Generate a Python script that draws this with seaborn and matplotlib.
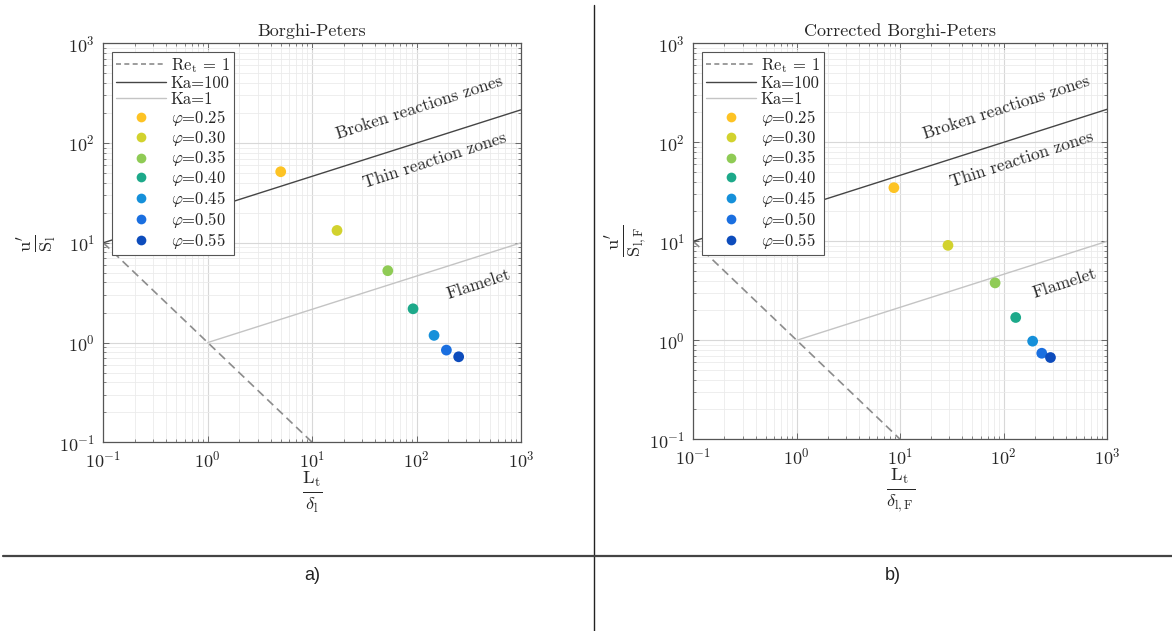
import matplotlib
matplotlib.use("Agg")
import matplotlib.pyplot as plt
from matplotlib.lines import Line2D
from matplotlib.ticker import LogLocator, NullFormatter
import seaborn as sns
import pandas as pd
import numpy as np

sns.set_theme(style="white")
plt.rcParams['font.family'] = ['cmr10', 'DejaVu Serif']
plt.rcParams['mathtext.fontset'] = 'cm'
plt.rcParams['axes.formatter.use_mathtext'] = True

# ---------------- data ----------------
phi_labels = ["0.25", "0.30", "0.35", "0.40", "0.45", "0.50", "0.55"]
phi_colors = ["#FDC324", "#D2D22E", "#8FCB55", "#1DA98A", "#1590DA", "#1A6FE0", "#0D4CBC"]

# panel a: Borghi-Peters
a_x = [5.0, 17.3, 53.0, 92.5, 147.0, 193.0, 253.0]
a_y = [51.6, 13.3, 5.25, 2.18, 1.18, 0.84, 0.72]
# panel b: Corrected Borghi-Peters
b_x = [8.7, 29.0, 82.8, 131.0, 191.0, 234.0, 284.0]
b_y = [34.8, 9.1, 3.8, 1.7, 0.98, 0.74, 0.67]

# regime boundaries (straight in log-log, end points)
ret_x = [0.1, 10.0]
ret_y = [10.0, 0.1]
ka100_x = [0.1, 1000.0]
ka100_y = [10.0, 215.4]
ka1_x = [1.0, 1000.0]
ka1_y = [1.0, 10.0]

titles = ["Borghi-Peters", "Corrected Borghi-Peters"]
xlabels = [r"$\frac{\mathrm{L_t}}{\delta_\mathrm{l}}$", r"$\frac{\mathrm{L_t}}{\delta_\mathrm{l,F}}$"]
ylabels = [r"$\frac{\mathrm{u}'}{\mathrm{S_l}}$", r"$\frac{\mathrm{u}'}{\mathrm{S_{l,F}}}$"]
panel_tags = ["a)", "b)"]

regime_text = ["Broken reactions zones", "Thin reaction zones", "Flamelet"]
regime_x = [106.0, 150.0, 390.0]
regime_y = [224.0, 67.0, 3.8]

# ---------------- figure ----------------
fig = plt.figure(figsize=(11.72, 6.31), dpi=100)
positions = [[103.3 / 1172, 1 - 442.3 / 631, 417.7 / 1172, 399 / 631],
             [693.3 / 1172, 1 - 439.3 / 631, 413.7 / 1172, 396 / 631]]

C_RET = "#8c8c8c"
C_K100 = "#454545"
C_K1 = "#c4c4c4"

for i in range(2):
    ax = fig.add_axes(positions[i])
    xs, ys = (a_x, a_y) if i == 0 else (b_x, b_y)
    df = pd.DataFrame({"x": xs, "y": ys, "phi": phi_labels})

    sns.lineplot(x=ret_x, y=ret_y, ax=ax, color=C_RET, lw=1.2, linestyle=(0, (5, 3)), zorder=2)
    sns.lineplot(x=ka100_x, y=ka100_y, ax=ax, color=C_K100, lw=1.0, zorder=2)
    sns.lineplot(x=ka1_x, y=ka1_y, ax=ax, color=C_K1, lw=1.0, zorder=2)
    sns.scatterplot(data=df, x="x", y="y", hue="phi", palette=phi_colors, s=60,
                    edgecolor="none", legend=False, ax=ax, zorder=3)

    ax.set_xscale("log")
    ax.set_yscale("log")
    ax.set_xlim(0.1, 1000)
    ax.set_ylim(0.1, 1000)

    ax.xaxis.set_major_locator(LogLocator(base=10, numticks=10))
    ax.yaxis.set_major_locator(LogLocator(base=10, numticks=10))
    ax.xaxis.set_minor_locator(LogLocator(base=10, subs=np.arange(2, 10), numticks=20))
    ax.yaxis.set_minor_locator(LogLocator(base=10, subs=np.arange(2, 10), numticks=20))
    ax.xaxis.set_minor_formatter(NullFormatter())
    ax.yaxis.set_minor_formatter(NullFormatter())

    ax.grid(True, which="major", color="#d8d8d8", lw=0.8)
    ax.grid(True, which="minor", color="#ebebeb", lw=0.6)
    ax.set_axisbelow(True)
    ax.tick_params(which="both", direction="in", top=True, right=True,
                   bottom=True, left=True, colors="#555555", labelcolor="#262626")
    ax.tick_params(which="major", length=4, width=0.6, labelsize=13)
    ax.tick_params(axis="x", which="major", pad=5)
    ax.tick_params(axis="y", which="major", pad=6)
    ax.tick_params(which="minor", length=2, width=0.5)
    for sp in ax.spines.values():
        sp.set_color("#555555")
        sp.set_linewidth(0.9)

    ax.set_title(titles[i], fontsize=13, color="#262626", pad=5)
    ax.set_xlabel(xlabels[i], fontsize=19, color="#262626", labelpad=0)
    ax.set_ylabel(ylabels[i], fontsize=19, color="#262626", labelpad=0)

    for t, tx, ty in zip(regime_text, regime_x, regime_y):
        ax.text(tx, ty, t, rotation=18, ha="center", va="center",
                fontsize=12.5, color="#2a2a2a", rotation_mode="anchor")

    handles = [
        Line2D([], [], color=C_RET, lw=1.2, linestyle=(0, (3, 2))),
        Line2D([], [], color=C_K100, lw=1.0),
        Line2D([], [], color=C_K1, lw=1.0),
    ]
    labels = [r"$\mathrm{Re_t}$ = 1", "Ka=100", "Ka=1"]
    for lab, col in zip(phi_labels, phi_colors):
        handles.append(Line2D([], [], marker="o", linestyle="none", markersize=7,
                              markerfacecolor=col, markeredgecolor="none"))
        labels.append(r"$\varphi$=" + lab)
    leg = ax.legend(handles, labels, loc="upper left", fontsize=12, frameon=True,
                    fancybox=False, edgecolor="#555555", framealpha=1,
                    borderpad=0.25, labelspacing=0.05, handlelength=3.0,
                    handletextpad=0.3, borderaxespad=0.5)
    leg.get_frame().set_linewidth(0.8)
    for txt in leg.get_texts():
        txt.set_color("#262626")

    fig.text([312 / 1172, 893 / 1172][i], 1 - 575 / 631, panel_tags[i],
             ha="center", va="center", fontsize=13,
             family=["Liberation Sans Narrow", "Liberation Sans", "DejaVu Sans"], color="#222222")

# separators
fig.add_artist(Line2D([594 / 1172, 594 / 1172], [0, 1 - 5 / 631], transform=fig.transFigure,
                      color="#222222", lw=1.0))
fig.add_artist(Line2D([3 / 1172, 1], [1 - 556 / 631, 1 - 556 / 631], transform=fig.transFigure,
                      color="#444444", lw=1.6))

fig.savefig("out.png", dpi=100, facecolor="white")
